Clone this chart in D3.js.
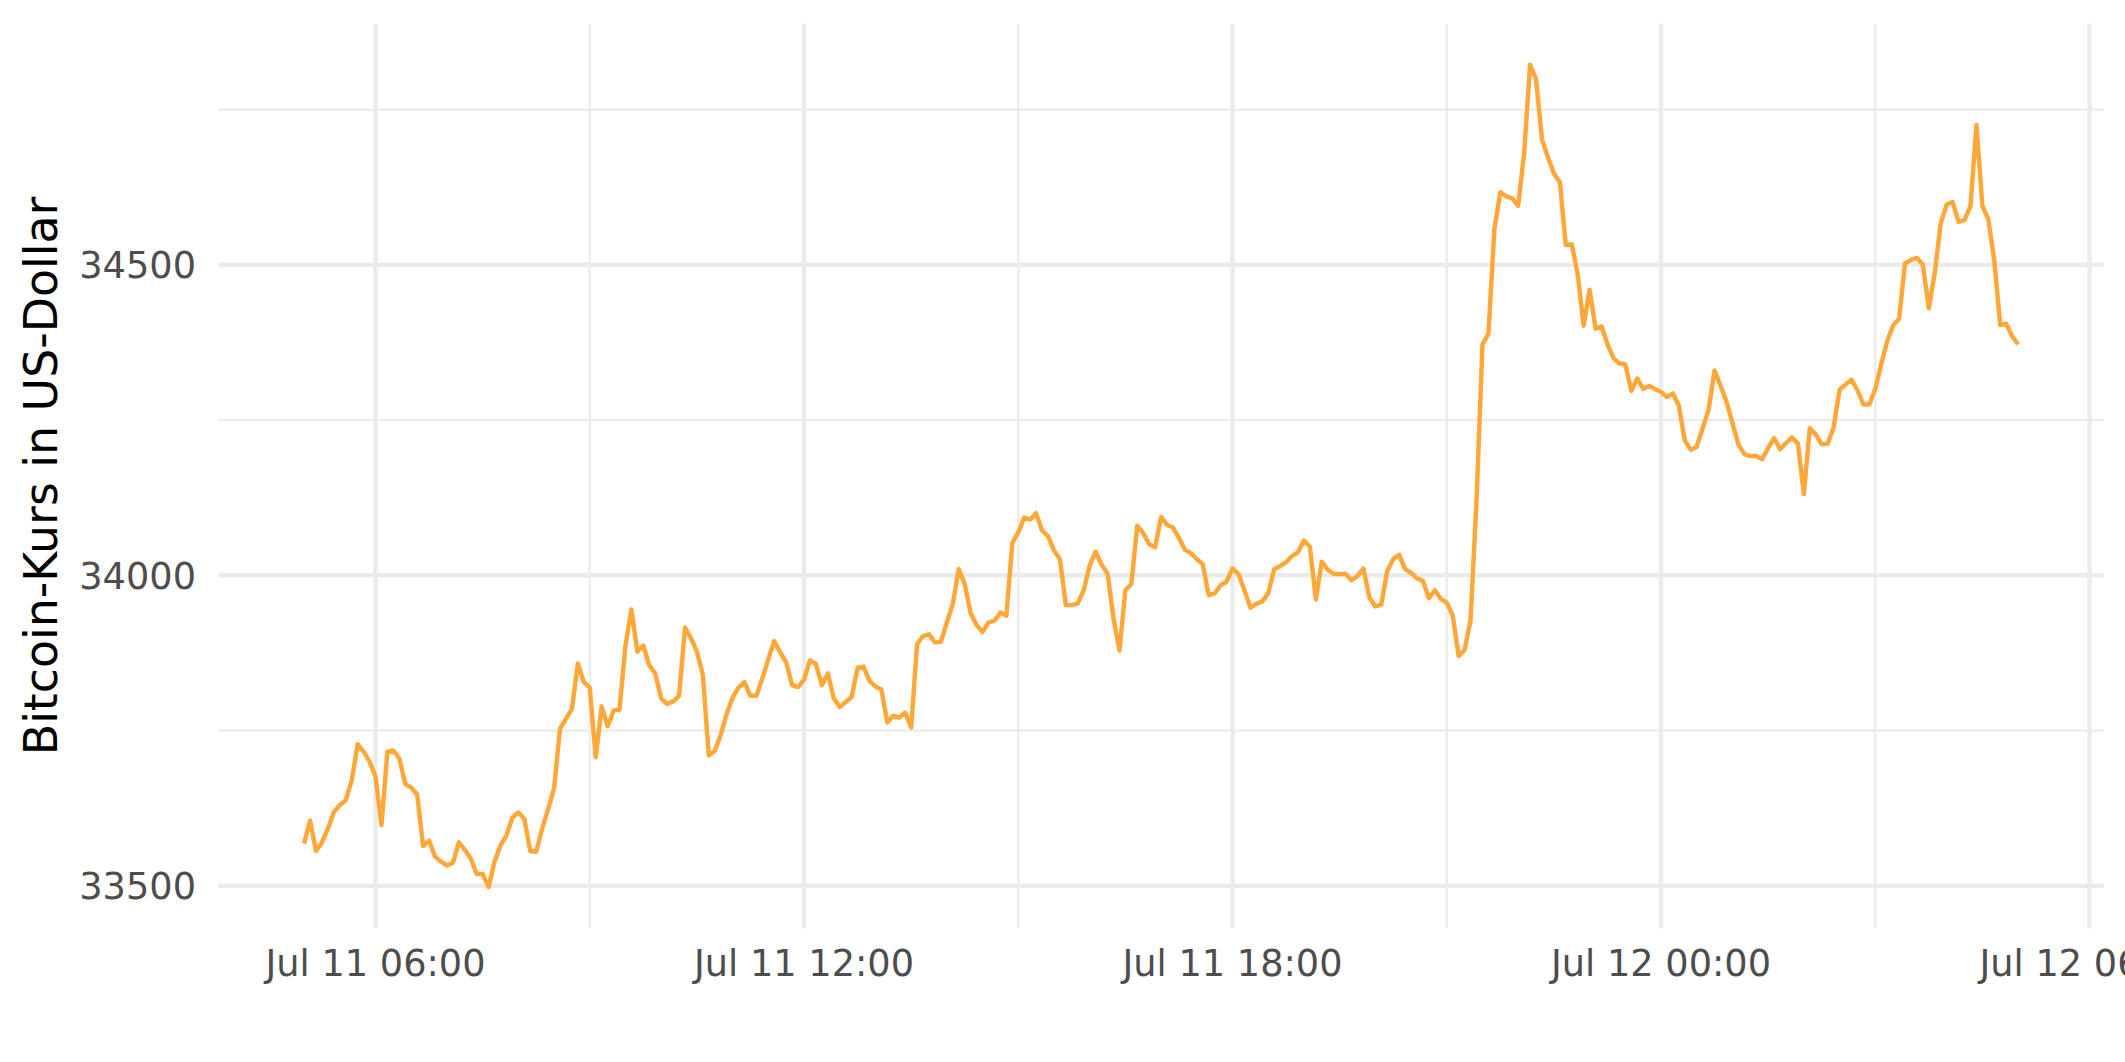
<!DOCTYPE html>
<html>
<head>
<meta charset="utf-8">
<script src="https://cdn.jsdelivr.net/npm/d3@7"></script>
<style>
  html, body { margin: 0; padding: 0; background: #ffffff; }
  svg { display: block; }
  text { font-family: "DejaVu Sans", sans-serif; }
</style>
</head>
<body>
<svg id="chart" width="2125" height="1062"></svg>
<script>
// ---- data: Bitcoin price (USD), 5-minute steps from Jul 11 05:00 to Jul 12 05:00 ----
const startTime = "2021-07-11T05:00:00Z";
const stepMinutes = 5;
const prices = [
  33568, 33605, 33556, 33570, 33592, 33619, 33630, 33638, 33670, 33728,
  33716, 33700, 33676, 33598, 33716, 33718, 33705, 33664, 33658, 33647,
  33564, 33573, 33547, 33539, 33533, 33537, 33570, 33558, 33544, 33519,
  33519, 33498, 33539, 33565, 33581, 33610, 33618, 33608, 33556, 33555,
  33592, 33623, 33657, 33753, 33769, 33785, 33858, 33828, 33819, 33707,
  33789, 33757, 33782, 33784, 33887, 33945, 33877, 33887, 33855, 33842,
  33802, 33793, 33797, 33806, 33916, 33899, 33877, 33840, 33710, 33717,
  33743, 33777, 33803, 33819, 33828, 33806, 33806, 33834, 33865, 33894,
  33876, 33860, 33823, 33820, 33832, 33863, 33857, 33823, 33842, 33802,
  33788, 33796, 33804, 33851, 33853, 33830, 33821, 33816, 33763, 33774,
  33771, 33779, 33755, 33889, 33902, 33905, 33892, 33893, 33924, 33954,
  34010, 33986, 33939, 33920, 33909, 33924, 33927, 33940, 33935, 34052,
  34069, 34093, 34090, 34100, 34072, 34063, 34040, 34026, 33952, 33952,
  33955, 33976, 34016, 34038, 34017, 34003, 33931, 33879, 33976, 33986,
  34080, 34068, 34050, 34045, 34094, 34081, 34077, 34060, 34041, 34036,
  34026, 34018, 33968, 33971, 33984, 33990, 34011, 34002, 33976, 33948,
  33954, 33958, 33971, 34010, 34015, 34021, 34031, 34037, 34056, 34046,
  33961, 34022, 34009, 34002, 34002, 34002, 33992, 33999, 34011, 33964,
  33950, 33953, 34007, 34026, 34033, 34010, 34004, 33995, 33991, 33963,
  33976, 33962, 33956, 33935, 33870, 33880, 33928, 34120, 34372, 34389,
  34557, 34617, 34610, 34607, 34595, 34680, 34822, 34799, 34702, 34673,
  34647, 34633, 34532, 34533, 34485, 34402, 34460, 34397, 34401, 34372,
  34350, 34341, 34340, 34297, 34317, 34300, 34305, 34300, 34295, 34287,
  34293, 34273, 34217, 34202, 34207, 34237, 34267, 34330, 34305, 34280,
  34245, 34211, 34195, 34192, 34192, 34187, 34205, 34221, 34203, 34213,
  34222, 34212, 34131, 34237, 34227, 34211, 34212, 34238, 34299, 34307,
  34315, 34298, 34275, 34275, 34300, 34340, 34377, 34402, 34413, 34502,
  34508, 34511, 34500, 34430, 34487, 34567, 34597, 34601, 34569, 34572,
  34595, 34725, 34595, 34573, 34507, 34403, 34405, 34385, 34372
];
const yMajorTicks = [33500, 34000, 34500];
const yMinorTicks = [33750, 34250, 34750];
const xMajorTickLabels = ["Jul 11 06:00", "Jul 11 12:00", "Jul 11 18:00", "Jul 12 00:00", "Jul 12 06:00"];
const yTitle = "Bitcoin-Kurs in US-Dollar";
const lineColor = "#FFA739";

// ---- build series ----
const t0 = new Date(startTime).getTime();
const series = prices.map((v, i) => ({ t: new Date(t0 + i * stepMinutes * 60000), v }));

// ---- layout ----
const W = 2125, H = 1062;
const panel = { left: 218.4, right: 2103.8, top: 23.7, bottom: 928.2 };

const tExt = d3.extent(series, d => d.t);
const tPad = (tExt[1] - tExt[0]) * 0.05;
const x = d3.scaleUtc()
  .domain([new Date(+tExt[0] - tPad), new Date(+tExt[1] + tPad)])
  .range([panel.left, panel.right]);

const vExt = d3.extent(series, d => d.v);
const vPad = (vExt[1] - vExt[0]) * 0.05;
const y = d3.scaleLinear()
  .domain([vExt[0] - vPad, vExt[1] + vPad])
  .range([panel.bottom, panel.top]);

const svg = d3.select("#chart");
svg.append("rect").attr("width", W).attr("height", H).attr("fill", "#ffffff");

const grid = "#EBEBEB";

// x ticks: major every 6h, minor every 3h in between
const xMajor = x.ticks(d3.utcHour.every(6));
const xAll = x.ticks(d3.utcHour.every(3));
const xMinor = xAll.filter(d => !xMajor.some(m => +m === +d));

// minor grid
svg.append("g").selectAll("line.ymin").data(yMinorTicks).join("line")
  .attr("x1", panel.left).attr("x2", panel.right)
  .attr("y1", d => y(d)).attr("y2", d => y(d))
  .attr("stroke", grid).attr("stroke-width", 2.2);
svg.append("g").selectAll("line.xmin").data(xMinor).join("line")
  .attr("x1", d => x(d)).attr("x2", d => x(d))
  .attr("y1", panel.top).attr("y2", panel.bottom)
  .attr("stroke", grid).attr("stroke-width", 2.2);

// major grid
svg.append("g").selectAll("line.ymaj").data(yMajorTicks).join("line")
  .attr("x1", panel.left).attr("x2", panel.right)
  .attr("y1", d => y(d)).attr("y2", d => y(d))
  .attr("stroke", grid).attr("stroke-width", 4.45);
svg.append("g").selectAll("line.xmaj").data(xMajor).join("line")
  .attr("x1", d => x(d)).attr("x2", d => x(d))
  .attr("y1", panel.top).attr("y2", panel.bottom)
  .attr("stroke", grid).attr("stroke-width", 4.45);

// line
const line = d3.line().x(d => x(d.t)).y(d => y(d.v));
svg.append("path").datum(series)
  .attr("d", line)
  .attr("fill", "none")
  .attr("stroke", lineColor)
  .attr("stroke-width", 4.45)
  .attr("stroke-linejoin", "round")
  .attr("stroke-linecap", "butt");

// y tick labels
svg.append("g").selectAll("text").data(yMajorTicks).join("text")
  .attr("x", 196)
  .attr("y", d => y(d))
  .attr("dy", "0.36em")
  .attr("text-anchor", "end")
  .attr("font-size", 36.7)
  .attr("fill", "#4D4D4D")
  .text(d => d);

// x tick labels
svg.append("g").selectAll("text").data(xMajor).join("text")
  .attr("x", d => x(d))
  .attr("y", 976)
  .attr("text-anchor", "middle")
  .attr("font-size", 36.7)
  .attr("fill", "#4D4D4D")
  .text((d, i) => xMajorTickLabels[i]);

// y title
svg.append("text")
  .attr("transform", `translate(56.5, ${(panel.top + panel.bottom) / 2}) rotate(-90)`)
  .attr("text-anchor", "middle")
  .attr("font-size", 45.8)
  .attr("fill", "#000000")
  .text(yTitle);
</script>
</body>
</html>
